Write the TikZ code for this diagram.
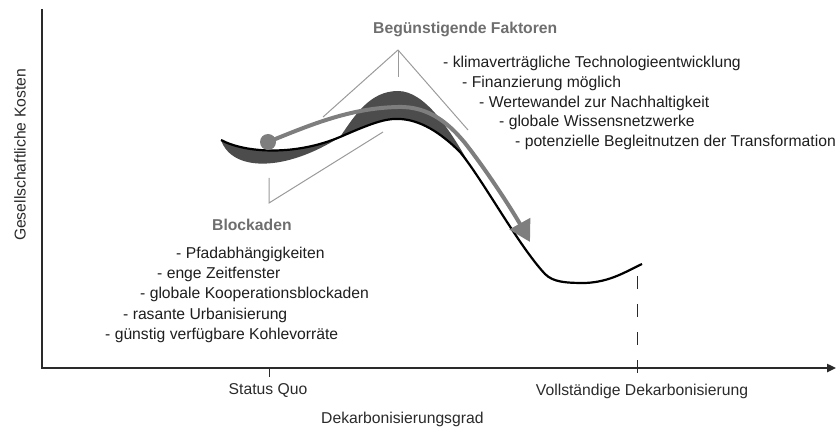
\documentclass[tikz,border=0pt]{standalone}
\usepackage{fontspec}
\setmainfont{Liberation Sans}
\usetikzlibrary{arrows.meta}
\definecolor{schrift}{HTML}{1E1E1E}
\definecolor{achse}{HTML}{2A2A2A}
\definecolor{titelgrau}{HTML}{6E6E6E}
\definecolor{pfeilgrau}{HTML}{7E7E7E}
\definecolor{flaeche}{HTML}{4C4C4C}
\definecolor{klammer}{HTML}{9A9A9A}

\begin{document}
\begin{tikzpicture}[x=1pt,y=-1pt,
    txt/.style={font=\fontsize{15.7}{19}\selectfont, text=schrift, inner sep=0pt, anchor=base west},
    titel/.style={txt, font=\fontsize{15.7}{19}\selectfont\bfseries, text=titelgrau},
    klammerlinie/.style={draw=klammer, line width=1pt}]
    \useasboundingbox (0,0) rectangle (837,427);

    % Achsen
    \coordinate (oben) at (42,9);
    \coordinate (ursprung) at (42,368);
    \coordinate (rechts) at (836,368);
    \draw[achse, line width=2.4pt, -{Triangle[length=9pt,width=8pt]}] (oben) -- (ursprung) -- (rechts);
    \node[txt, anchor=center, rotate=90, text=achse] (ylabel) at (20,155) {Gesellschaftliche Kosten};
    \node[txt, text=achse] (xlabel) at (321,423) {Dekarbonisierungsgrad};

    % Markierungen
    \coordinate (sq) at (269,368);
    \coordinate (sqt) at (269,377);
    \draw[achse, line width=1pt] (sq) -- (sqt);
    \node[txt, anchor=base, text=achse] (statusquo) at (268,394) {Status Quo};
    \coordinate (vdo) at (637,276);
    \coordinate (vdu) at (637,378);
    \draw[achse, line width=1pt, dash pattern=on 13pt off 15pt] (vdo) -- (vdu);
    \node[txt, anchor=base, text=achse] (vollst) at (642,395) {Vollständige Dekarbonisierung};

    % Flaechen
    \fill[flaeche] (221,140) .. controls (245,153) and (295,156) .. (340,137)
        .. controls (285,172) and (232,172) .. cycle;
    \fill[flaeche] (340,137) .. controls (370,124) and (385,118) .. (400,119)
        .. controls (420,120) and (440,132) .. (460,152) -- (470,165)
        .. controls (450,130) and (425,91) .. (398,91)
        .. controls (370,91) and (355,115) .. cycle;

    % Kostenkurve
    \draw[black, line width=2.2pt] (221,140) .. controls (245,153) and (295,156) .. (340,137)
        .. controls (370,124) and (385,118) .. (400,119)
        .. controls (420,120) and (440,132) .. (460,152)
        .. controls (483,180) and (518,245) .. (545,274)
        .. controls (553,282) and (565,283) .. (585,283)
        .. controls (610,282) and (625,272) .. (642,264);

    % Pfad
    \fill[pfeilgrau] (268,142) circle (8);
    \draw[pfeilgrau, line width=4pt, -{Triangle[length=21pt,width=23pt]}] (268,142)
        .. controls (310,125) and (350,108) .. (398,107)
        .. controls (430,106) and (450,125) .. (465,143)
        .. controls (490,175) and (515,215) .. (530,242);

    % Klammern
    \coordinate (fspitze) at (398,50);
    \coordinate (flinks) at (323,117);
    \coordinate (frechts) at (468,130);
    \coordinate (fmitte) at (398,77);
    \draw[klammerlinie] (flinks) -- (fspitze) -- (frechts);
    \draw[klammerlinie] (fspitze) -- (fmitte);
    \coordinate (boben) at (269,178);
    \coordinate (becke) at (269,203);
    \coordinate (brechts) at (383,132);
    \draw[klammerlinie] (boben) -- (becke) -- (brechts);

    % Beguenstigende Faktoren
    \node[titel] (faktoren) at (373,34) {Begünstigende Faktoren};
    \node[txt] (f1) at (443,68) {- klimaverträgliche Technologieentwicklung};
    \node[txt] (f2) at (462,87.7) {- Finanzierung möglich};
    \node[txt] (f3) at (479,107.4) {- Wertewandel zur Nachhaltigkeit};
    \node[txt] (f4) at (499,127) {- globale Wissensnetzwerke};
    \node[txt] (f5) at (515,146.8) {- potenzielle Begleitnutzen der Transformation};

    % Blockaden
    \node[titel] (blockaden) at (212,231) {Blockaden};
    \node[txt] (b1) at (176,258.5) {- Pfadabhängigkeiten};
    \node[txt] (b2) at (157,278.7) {- enge Zeitfenster};
    \node[txt] (b3) at (140,298.9) {- globale Kooperationsblockaden};
    \node[txt] (b4) at (123,319.1) {- rasante Urbanisierung};
    \node[txt] (b5) at (105,339.3) {- günstig verfügbare Kohlevorräte};
\end{tikzpicture}
\end{document}
